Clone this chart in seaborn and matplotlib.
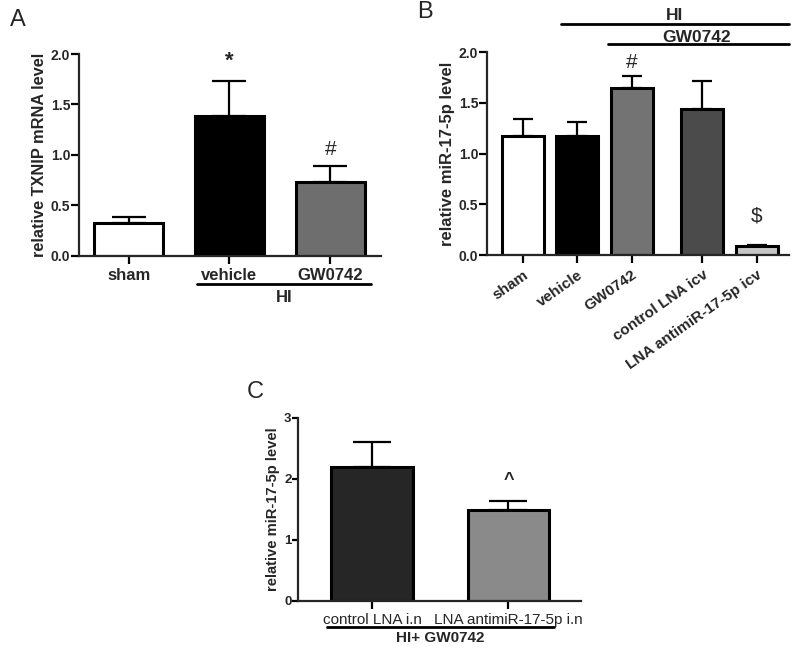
import numpy as np
import pandas as pd
import seaborn as sns
import matplotlib.pyplot as plt
import matplotlib.transforms as mtrans

# panel A: TXNIP mRNA
a_groups = ["sham", "vehicle", "GW0742"]
a_mean = [0.33, 1.39, 0.73]
a_sem = [0.05, 0.34, 0.16]

# panel B: miR-17-5p (icv)
b_groups = ["sham", "vehicle", "GW0742", "control LNA icv", "LNA antimiR-17-5p icv"]
b_mean = [1.17, 1.17, 1.65, 1.44, 0.09]
b_sem = [0.17, 0.14, 0.11, 0.28, 0.015]

# panel C: miR-17-5p (i.n)
c_groups = ["control LNA i.n", "LNA antimiR-17-5p i.n"]
c_mean = [2.20, 1.49]
c_sem = [0.41, 0.14]

sns.set_style("ticks")
plt.rcParams['font.family'] = ['Liberation Sans', 'DejaVu Sans']
plt.rcParams['axes.linewidth'] = 1.6

fig = plt.figure(figsize=(8, 6.51), dpi=100)
axA = fig.add_axes([0.099, 0.607, 0.377, 0.310])
axB = fig.add_axes([0.609, 0.608, 0.377, 0.312])
axC = fig.add_axes([0.373, 0.077, 0.353, 0.281])


def style_axis(ax, ysize):
	sns.despine(ax=ax)
	ax.tick_params(axis='both', direction='out', length=5.5, width=1.6, color='black')
	ax.tick_params(axis='y', labelsize=ysize, pad=1)
	for lab in ax.get_yticklabels():
		lab.set_fontweight('bold')
	ax.set_xlabel("")


def add_errs(ax, x, mean, sem, cap):
	ax.errorbar(x, mean, yerr=[np.zeros(len(sem)), sem], fmt='none', ecolor='black',
				elinewidth=1.6, capsize=cap, capthick=1.6, zorder=1)


# ---- A ----
dfa = pd.DataFrame({"group": a_groups, "value": a_mean})
sns.barplot(data=dfa, x="group", y="value", hue="group", palette=["white", "black", "#6e6e6e"],
			width=0.68, edgecolor="black", linewidth=2.2, legend=False, ax=axA, zorder=2)
add_errs(axA, range(3), a_mean, a_sem, 12.5)
axA.set_xlim(-0.49, 2.5)
axA.set_ylim(0, 2.0)
axA.set_yticks([0, 0.5, 1.0, 1.5, 2.0])
axA.set_yticklabels(["0.0", "0.5", "1.0", "1.5", "2.0"])
axA.set_ylabel("relative TXNIP mRNA level", fontsize=11.8, fontweight='bold', labelpad=3)
axA.set_xticks(range(3))
axA.set_xticklabels(a_groups, fontsize=12, fontweight='bold')
style_axis(axA, 10)
axA.text(1, 1.93, "*", ha='center', va='center', fontsize=16, fontweight='bold')
axA.text(2, 1.05, "#", ha='center', va='center', fontsize=15)
trA = mtrans.blended_transform_factory(axA.transData, axA.transAxes)
axA.plot([0.68, 2.40], [-0.139, -0.139], color='black', lw=2, transform=trA, clip_on=False)
axA.text(1.54, -0.208, "HI", ha='center', va='center', fontsize=12, fontweight='bold', transform=trA)

# ---- B ----
b_pos = [0, 1, 2, 3.3, 4.3]
dfb = pd.DataFrame({"pos": b_pos, "group": b_groups, "value": b_mean})
sns.barplot(data=dfb, x="pos", y="value", hue="group", native_scale=True,
			palette=["white", "black", "#737373", "#4b4b4b", "#c6c6c6"],
			width=0.77, edgecolor="black", linewidth=2.2, legend=False, ax=axB, zorder=2)
add_errs(axB, b_pos, b_mean, b_sem, 7.2)
axB.set_xlim(-0.66, 4.89)
axB.set_ylim(0, 2.0)
axB.set_yticks([0, 0.5, 1.0, 1.5, 2.0])
axB.set_yticklabels(["0.0", "0.5", "1.0", "1.5", "2.0"])
axB.set_ylabel("relative miR-17-5p level", fontsize=12, fontweight='bold', labelpad=3)
axB.set_xticks(b_pos)
axB.set_xticklabels(b_groups, fontsize=11, fontweight='bold', rotation=35,
					ha='right', rotation_mode='anchor')
style_axis(axB, 10)
axB.text(2, 1.90, "#", ha='center', va='center', fontsize=15)
axB.text(4.3, 0.39, "$", ha='center', va='center', fontsize=15)
trB = mtrans.blended_transform_factory(axB.transData, axB.transAxes)
axB.plot([0.70, 4.89], [1.138, 1.138], color='black', lw=2, transform=trB, clip_on=False)
axB.plot([1.56, 4.89], [1.039, 1.039], color='black', lw=2, transform=trB, clip_on=False)
axB.text(2.79, 1.182, "HI", ha='center', va='center', fontsize=12.5, fontweight='bold', transform=trB)
axB.text(3.19, 1.074, "GW0742", ha='center', va='center', fontsize=12.5, fontweight='bold', transform=trB)

# ---- C ----
dfc = pd.DataFrame({"group": c_groups, "value": c_mean})
sns.barplot(data=dfc, x="group", y="value", hue="group", palette=["#262626", "#8a8a8a"],
			width=0.6, edgecolor="black", linewidth=2.2, legend=False, ax=axC, zorder=2)
add_errs(axC, range(2), c_mean, c_sem, 14)
axC.set_xlim(-0.54, 1.53)
axC.set_ylim(0, 3)
axC.set_yticks([0, 1, 2, 3])
axC.set_ylabel("relative miR-17-5p level", fontsize=10.6, fontweight='bold', labelpad=3)
axC.set_xticks(range(2))
axC.set_xticklabels(c_groups, fontsize=11)
style_axis(axC, 9.5)
axC.tick_params(axis='y', length=4)
axC.text(1, 1.98, "^", ha='center', va='center', fontsize=13, fontweight='bold')
trC = mtrans.blended_transform_factory(axC.transData, axC.transAxes)
axC.plot([-0.33, 1.33], [-0.142, -0.142], color='black', lw=2, transform=trC, clip_on=False)
axC.text(0.5, -0.202, "HI+ GW0742", ha='center', va='center', fontsize=11, fontweight='bold', transform=trC)

# panel letters
fig.text(0.0225, 0.969, "A", ha='center', va='center', fontsize=17)
fig.text(0.531, 0.982, "B", ha='center', va='center', fontsize=17)
fig.text(0.319, 0.398, "C", ha='center', va='center', fontsize=17)

fig.savefig("out.png", dpi=100)
